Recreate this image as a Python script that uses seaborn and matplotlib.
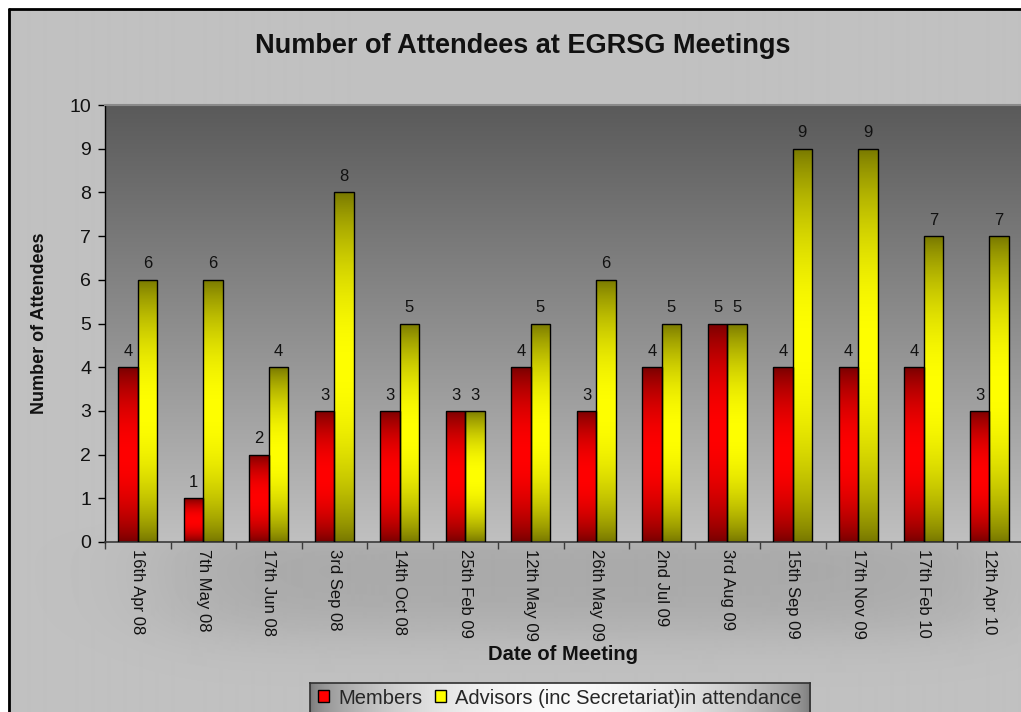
import numpy as np
import pandas as pd
import matplotlib
matplotlib.use("Agg")
import matplotlib.pyplot as plt
import seaborn as sns
from matplotlib.patches import Rectangle
from matplotlib.colors import to_rgb

# ---- data -------------------------------------------------------------
meeting_dates = ["16th Apr 08", "7th May 08", "17th Jun 08", "3rd Sep 08",
                 "14th Oct 08", "25th Feb 09", "12th May 09", "26th May 09",
                 "2nd Jul 09", "3rd Aug 09", "15th Sep 09", "17th Nov 09",
                 "17th Feb 10", "12th Apr 10"]
members = [4, 1, 2, 3, 3, 3, 4, 3, 4, 5, 4, 4, 4, 3]
advisors = [6, 6, 4, 8, 5, 3, 5, 6, 5, 5, 9, 9, 7, 7]
series_names = ["Members", "Advisors (inc Secretariat)in attendance"]
y_ticks = list(range(0, 11))

df = pd.DataFrame({
    "Date": meeting_dates * 2,
    "Attendees": members + advisors,
    "Series": [series_names[0]] * len(members) + [series_names[1]] * len(advisors),
})

# ---- style ------------------------------------------------------------
sns.set_theme(style="white")
plt.rcParams["font.family"] = ["Liberation Sans", "DejaVu Sans"]

W, H = 1021, 712
fig = plt.figure(figsize=(W / 100, H / 100), dpi=100, facecolor="white")

# chart-area background with a soft haze below the plot region
bg = fig.add_axes([0, 0, 1, 1])
bg.set_axis_off()
yy, xx = np.mgrid[0:H, 0:W]
sig = lambda z: 1.0 / (1.0 + np.exp(-z))
haze = (sig((xx - 170) / 40) * sig((990 - xx) / 40)
        * sig((yy - 535) / 8) * sig((632 - yy) / 16))
canvas = 193 - 24 * haze
canvas[(xx < 8) | (yy < 9)] = 255
bg.imshow(canvas, cmap="gray", vmin=0, vmax=255, extent=(0, 1, 0, 1),
          aspect="auto", interpolation="bilinear", origin="upper")
bg.plot([8.5 / W, 8.5 / W], [0, 1 - 9 / H], color="black", lw=2)
bg.plot([8.5 / W, 1], [1 - 9 / H, 1 - 9 / H], color="black", lw=2)
bg.set_xlim(0, 1)
bg.set_ylim(0, 1)

# ---- plot area --------------------------------------------------------
ax = fig.add_axes([105 / W, 1 - 542 / H, 917 / W, 437 / H])
ax.patch.set_visible(False)

sns.barplot(data=df, x="Date", y="Attendees", hue="Series",
            order=meeting_dates, hue_order=series_names,
            palette=["#ff0000", "#ffff00"], width=0.59, gap=0,
            saturation=1, edgecolor="black", linewidth=1,
            legend=False, ax=ax, zorder=3)

# vertical grey gradient behind the bars
t = np.linspace(0, 1, 256)[:, None]
back = (192 - 102 * t) / 255.0
ax.imshow(np.dstack([back, back, back]), extent=(-0.5, 13.5, 0, 10),
          aspect="auto", origin="lower", zorder=0, interpolation="bilinear")

# shaded fill for every bar: dark at both ends, bright in the middle
shades = [("#760000", "#ff0000"), ("#767600", "#ffff00")]
prof = np.sin(np.pi * np.linspace(0, 1, 256)) ** 0.8
for cont, (dark, bright) in zip(ax.containers, shades):
    d, b = np.array(to_rgb(dark)), np.array(to_rgb(bright))
    grad = (d[None, :] + (b - d)[None, :] * prof[:, None])[:, None, :]
    for bar in cont:
        x0, y0 = bar.get_xy()
        im = ax.imshow(grad, extent=(x0, x0 + bar.get_width(), y0, y0 + bar.get_height()),
                       aspect="auto", origin="lower", zorder=2,
                       interpolation="bilinear")
        im.set_clip_path(bar)
        bar.set_facecolor("none")
    ax.bar_label(cont, padding=6, fontsize=12, color="#111111")

ax.set_xlim(-0.5, 13.5)
ax.set_ylim(0, 10)
ax.set_yticks(y_ticks)
ax.set_xticks(np.arange(-0.5, 14, 1), minor=True)
ax.set_xlabel("")
ax.set_ylabel("")

for side in ["left", "bottom", "top", "right"]:
    ax.spines[side].set_visible(True)
ax.spines["left"].set_color("black")
ax.spines["left"].set_linewidth(1)
ax.spines["bottom"].set_color("#3a3a3a")
ax.spines["bottom"].set_linewidth(1.2)
ax.spines["top"].set_color("#8a8a8a")
ax.spines["top"].set_linewidth(1.5)
ax.spines["right"].set_visible(False)

ax.tick_params(axis="y", left=True, direction="out", length=5, width=1,
               color="black", labelsize=14, pad=5, labelcolor="#111111")
ax.tick_params(axis="x", which="major", bottom=True, length=0, pad=5,
               labelsize=12, labelcolor="#111111")
ax.tick_params(axis="x", which="minor", bottom=True, direction="out",
               length=5, width=1, color="#3a3a3a")
plt.setp(ax.get_xticklabels(), rotation=-90, ha="center", va="top")

# ---- titles -----------------------------------------------------------
fig.text(523 / W, 1 - 46 / H, "Number of Attendees at EGRSG Meetings",
         ha="center", va="center", fontsize=19.5, fontweight="bold", color="#111111")
fig.text(39 / W, 1 - 323 / H, "Number of Attendees", rotation=90,
         ha="center", va="center", fontsize=13, fontweight="bold", color="#111111")
fig.text(563 / W, 1 - 654 / H, "Date of Meeting",
         ha="center", va="center", fontsize=14.5, fontweight="bold", color="#111111")

# ---- legend -----------------------------------------------------------
lax = fig.add_axes([310 / W, -0.02, 500 / W, (712 - 683) / H + 0.02])
u = np.linspace(0, 1, 400)
lv = (120 + 130 * np.sin(np.pi * u) ** 0.6) / 255.0
lax.imshow(np.repeat(np.dstack([lv, lv, lv]), 2, axis=0),
           extent=(0, 1, 0, 1), aspect="auto", interpolation="bilinear")
lax.set_xticks([])
lax.set_yticks([])
for s in lax.spines.values():
    s.set_color("#303030")
    s.set_linewidth(1.2)

handles = [Rectangle((0, 0), 1, 1, facecolor="#ff0000", edgecolor="black", lw=1),
           Rectangle((0, 0), 1, 1, facecolor="#ffff00", edgecolor="black", lw=1)]
fig.legend(handles=handles, labels=series_names, loc="center",
           bbox_to_anchor=(560 / W, 1 - 698 / H), ncol=2, frameon=False,
           fontsize=14.5, handlelength=0.55, handleheight=0.55,
           handletextpad=0.45, columnspacing=0.65, borderpad=0)

fig.savefig("out.png", dpi=100, facecolor="white")
